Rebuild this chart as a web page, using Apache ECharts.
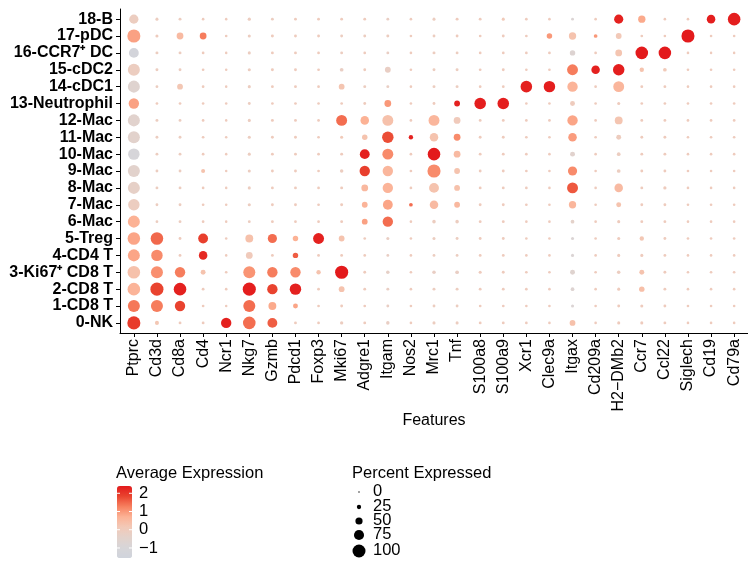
<!DOCTYPE html>
<html>
<head>
<meta charset="utf-8">
<script src="https://cdn.jsdelivr.net/npm/echarts@6/dist/echarts.min.js"></script>
<style>html,body{margin:0;padding:0;background:#fff}#c{width:748px;height:563px}</style>
</head>
<body>
<div id="c"></div>
<script>
// Features (x axis, left to right)
const features = ['Ptprc','Cd3d','Cd8a','Cd4','Ncr1','Nkg7','Gzmb','Pdcd1','Foxp3','Mki67','Adgre1','Itgam','Nos2','Mrc1','Tnf','S100a8','S100a9','Xcr1','Clec9a','Itgax','Cd209a','H2\u2212DMb2','Ccr7','Ccl22','Siglech','Cd19','Cd79a'];
// Clusters (y axis, top to bottom)
const clusters = ['18-B','17-pDC','16-CCR7\u207A DC','15-cDC2','14-cDC1','13-Neutrophil','12-Mac','11-Mac','10-Mac','9-Mac','8-Mac','7-Mac','6-Mac','5-Treg','4-CD4 T','3-Ki67\u207A CD8 T','2-CD8 T','1-CD8 T','0-NK'];
// Percent expressed, one row per cluster (top to bottom)
const pctExpressed = [
  [64,8,7,4,3,10,6,6,6,6,6,6,4,8,7,6,8,5,4,6,4,64,47,4,4,58,95],
  [100,8,42,42,4,8,7,6,6,6,6,7,4,6,6,5,6,5,30,47,14,33,5,4,100,4,4],
  [70,7,7,5,3,8,6,6,5,6,5,6,4,7,6,5,5,5,5,30,5,42,95,95,4,3,3],
  [90,7,6,5,3,8,7,6,5,14,6,33,4,7,7,5,6,4,4,80,58,85,20,14,4,4,4],
  [90,6,33,5,3,8,6,6,5,33,7,7,4,7,7,5,5,86,85,75,5,80,6,6,4,4,4],
  [75,5,5,4,3,6,5,5,4,5,6,42,4,6,33,86,86,4,4,25,4,8,5,5,4,4,4],
  [90,7,6,5,3,8,7,6,5,80,58,80,5,80,42,6,6,5,5,75,5,52,6,6,5,5,5],
  [90,6,6,5,3,8,6,6,5,8,30,85,20,58,42,6,6,5,4,58,4,25,6,6,4,4,4],
  [85,6,6,5,3,8,6,6,5,7,70,80,5,95,42,6,6,5,4,25,4,14,6,6,4,4,4],
  [90,6,6,17,3,8,6,6,5,12,75,75,5,100,33,6,6,5,4,64,4,14,6,6,4,4,4],
  [90,6,6,5,3,8,6,6,5,7,42,75,5,70,33,6,6,5,4,80,4,58,6,10,4,4,4],
  [85,6,6,5,3,8,6,6,5,7,33,70,14,58,33,6,6,5,4,47,4,25,6,6,4,4,4],
  [90,5,6,5,3,6,6,5,5,6,33,75,4,12,12,6,6,4,4,14,4,8,6,6,4,4,4],
  [95,95,6,70,3,52,64,30,80,33,5,8,4,8,7,6,6,4,4,8,4,8,20,6,4,4,4],
  [90,85,6,58,3,42,6,30,6,6,5,6,4,6,6,6,6,4,4,8,4,8,8,6,4,4,4],
  [95,90,75,25,4,90,75,75,20,100,6,12,4,12,14,8,6,5,4,25,4,12,25,6,4,4,4],
  [95,100,95,6,4,100,75,85,6,33,6,7,4,7,7,6,6,5,4,14,4,8,30,6,4,4,4],
  [90,90,75,5,3,90,52,25,5,6,5,6,4,6,6,5,5,4,4,8,4,6,8,6,4,4,4],
  [100,17,6,6,75,95,70,6,5,10,6,12,4,8,8,6,6,5,4,33,4,8,8,6,4,4,4]
];
// Average expression (scaled), one row per cluster (top to bottom)
const avgExpression = [
  [-0.1,-0.1,-0.1,0,0,-0.1,-0.1,0,0,0,0,-0.2,0,-0.1,0,0,0.1,0,0,-0.8,0,2.3,0.8,0,0,2.35,2.35],
  [0.9,0,0.5,1.3,0,-0.1,0,0,0,-0.1,-0.1,-0.1,0,-0.1,0,0,0,0,1.0,0.3,1.0,0.15,0,0,2.4,0,0],
  [-1.3,-0.1,-0.1,0,0,-0.1,0,0,0,-0.1,0,-0.2,0,-0.1,-0.1,0,0,0,0,-0.7,0,0.25,2.4,2.4,0,0,0],
  [-0.1,-0.1,-0.1,0,0,-0.1,0,0,0,-0.2,0,-0.2,0,-0.1,-0.1,0,0,0,0,1.3,2.3,2.35,0.3,0.1,0,0,0],
  [-0.6,-0.1,0.2,0,0,-0.1,0,0,0,0.25,-0.1,-0.2,0,-0.1,-0.1,0,0,2.3,2.35,0.65,0,0.6,0,0,0,0,0],
  [0.9,0,0,0,0,-0.1,0,0,0,0,0,1.0,0,0,2.3,2.35,2.35,0,0,0,0,0,0,0,0,0,0],
  [-0.5,-0.1,-0.1,0,0,-0.1,0,0,0,1.45,0.7,0.35,0,0.6,0.05,0,0,0,0,0.85,0,0.25,0,0,0,0,0],
  [-0.45,-0.1,-0.1,0,0,-0.1,0,0,0,0.1,0.3,1.75,2.3,0.3,1.15,0,0,0,0,0.95,0,-0.05,0,0,0,0,0],
  [-1.1,-0.1,-0.1,0,0,-0.1,0,0,0,0,2.3,1.15,0,2.4,0.5,0,0,0,0,-0.5,0,-0.1,0,0,0,0,0],
  [-0.45,-0.1,-0.1,0.3,0,-0.1,0,0,0,-0.1,1.9,0.6,0,1.15,0.3,0,0,0,0,1.15,0,-0.1,0,0,0,0,0],
  [-0.3,-0.1,-0.1,0,0,-0.1,0,0,0,0,0.55,0.65,0,0.3,0.35,0,0,0,0,1.65,0,0.5,0,0,0,0,0],
  [-0.1,-0.1,-0.1,0,0,-0.1,0,0,0,0,0.65,0.85,1.45,0.5,0.55,0,0,0,0,0.6,0,0.3,0,0,0,0,0],
  [0.7,-0.1,-0.1,0,0,-0.1,0,0,0,0,0.9,1.45,0,-0.1,-0.1,0,0,0,0,-0.4,0,0,0,0,0,0,0],
  [0.85,1.5,0,1.9,0,0.35,1.45,0.7,2.3,0.3,0,-0.2,0,-0.1,-0.1,0,0,0,0,-0.8,0,0,0.2,0,0,0,0],
  [0.85,1.15,0,2.2,0,0.05,0,1.6,0,0,0,-0.2,0,-0.1,-0.1,0,0,0,0,-0.8,0,0,0,0,0,0,0],
  [0.35,1.1,1.3,0.3,0,1.05,1.3,1.15,0.3,2.4,0,-0.3,0,-0.2,-0.2,0,0,0,0,-0.6,0,-0.1,0.3,0,0,0,0],
  [0.65,1.85,2.3,0,0,2.35,1.85,2.3,0,0.3,0,-0.2,0,-0.1,-0.1,0,0,0,0,-0.7,0,0,0.4,0,0,0,0],
  [1.35,1.3,1.85,0,0,1.45,0.8,0.85,0,0,0,-0.2,0,-0.1,-0.1,0,0,0,0,-0.8,0,0,0,0,0,0,0],
  [1.95,0.2,0,0,2.3,1.45,1.6,0,0,-0.1,0,-0.2,0,-0.1,-0.1,0,0,0,0,0.35,0,0,0,0,0,0,0]
];
// Legend values
const colorTicks = [2, 1, 0, -1];
const sizeTicks = [0, 25, 50, 75, 100];
const colorMin = -1.55, colorMax = 2.4;
const colorStops = ['#d0d4dc','#d7d5d8','#e3d2cb','#f2c9b8','#fcb295','#f7805f','#e9442f','#e31a1c'];

const FONT = '"Liberation Sans", Arial, Helvetica, sans-serif';
const nRows = clusters.length;
const yNames = clusters.slice().reverse(); // index 0 = bottom
const sizeOf = p => 2.2 + 0.109 * p;
const legendSizeOf = p => 1.4 + 0.116 * p;

const data = [];
pctExpressed.forEach((row, i) => {
  row.forEach((p, j) => {
    data.push([j, nRows - 1 - i, p, avgExpression[i][j]]);
  });
});

const chart = echarts.init(document.getElementById('c'), null, {renderer: 'canvas'});

// legend graphics
const graphics = [];
graphics.push({type: 'text', left: 116, top: 465, style: {text: 'Average Expression', font: '16.5px ' + FONT, fill: '#000'}});
graphics.push({type: 'text', left: 352, top: 465, style: {text: 'Percent Expressed', font: '16.5px ' + FONT, fill: '#000'}});
const barTop = 486, barH = 72, barLeft = 117, barW = 15;
colorTicks.forEach(v => {
  const y = barTop + (colorMax - v) / (colorMax - colorMin) * barH;
  graphics.push({type: 'text', x: 139, y: y, style: {text: v < 0 ? '\u2212' + Math.abs(v) : String(v), font: '16.5px ' + FONT, fill: '#000', textVerticalAlign: 'middle'}, z: 10});
  graphics.push({type: 'line', shape: {x1: barLeft, y1: y, x2: barLeft + 3, y2: y}, style: {stroke: '#fff', lineWidth: 1}, z: 10});
  graphics.push({type: 'line', shape: {x1: barLeft + barW - 3, y1: y, x2: barLeft + barW, y2: y}, style: {stroke: '#fff', lineWidth: 1}, z: 10});
});
const sizeY = [492, 507, 521, 535, 551];
sizeTicks.forEach((p, k) => {
  graphics.push({type: 'circle', shape: {cx: 359, cy: sizeY[k], r: legendSizeOf(p) / 2}, style: {fill: '#000'}});
  graphics.push({type: 'text', x: 373, y: sizeY[k] - 1, style: {text: String(p), font: '16.5px ' + FONT, fill: '#000', textVerticalAlign: 'middle'}});
});

chart.setOption({
  animation: false,
  backgroundColor: '#fff',
  grid: {left: 120, top: 9, width: 631, height: 324, containLabel: false},
  xAxis: {
    type: 'value', min: -0.6, max: features.length - 1 + 0.6,
    splitLine: {show: false},
    axisLine: {show: true, onZero: false, lineStyle: {color: '#000', width: 1}},
    axisTick: {show: true, length: 4, lineStyle: {color: '#000'}, customValues: features.map((_, i) => i)},
    axisLabel: {customValues: features.map((_, i) => i), rotate: 90, fontSize: 16, fontFamily: FONT, color: '#000', margin: 6,
      formatter: v => features[Math.round(v)] || ''},
    name: 'Features', nameLocation: 'middle', nameGap: 80, nameMoveOverlap: false,
    nameTextStyle: {fontSize: 16, fontFamily: FONT, color: '#000', verticalAlign: 'top'}
  },
  yAxis: {
    type: 'value', min: -0.6, max: nRows - 1 + 0.6,
    splitLine: {show: false},
    axisLine: {show: true, onZero: false, lineStyle: {color: '#000', width: 1}},
    axisTick: {show: true, length: 4, lineStyle: {color: '#000'}, customValues: yNames.map((_, i) => i)},
    axisLabel: {customValues: yNames.map((_, i) => i), fontSize: 16, fontWeight: 'bold', fontFamily: FONT, color: '#000', margin: 7,
      formatter: v => yNames[Math.round(v)] || ''}
  },
  visualMap: {
    type: 'continuous', dimension: 3, seriesIndex: 0,
    min: colorMin, max: colorMax, calculable: false, realtime: false,
    orient: 'vertical', left: barLeft, top: barTop, itemWidth: barW, itemHeight: barH,
    padding: 0, text: null, showLabel: false,
    inRange: {color: colorStops}
  },
  series: [{
    type: 'scatter',
    data: data,
    symbolSize: d => sizeOf(d[2]),
    itemStyle: {opacity: 1}
  }],
  graphic: graphics
});
</script>
</body>
</html>
